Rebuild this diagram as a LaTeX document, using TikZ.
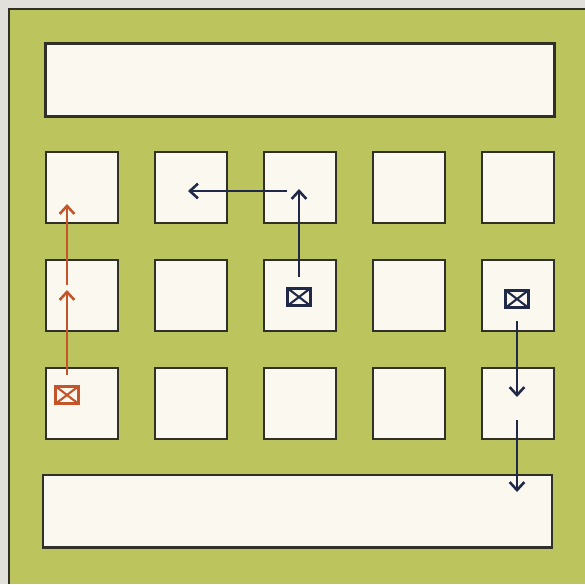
\documentclass[tikz,border=0pt]{standalone}
\usetikzlibrary{
  arrows.meta,
  positioning
}
\definecolor{papercolor}{RGB}{226, 224, 218}
\definecolor{panelcolor}{RGB}{188, 196, 94}
\definecolor{keycolor}{RGB}{251, 248, 240}
\definecolor{edgecolor}{RGB}{48, 48, 40}
\definecolor{redpath}{RGB}{196, 84, 42}
\definecolor{bluepath}{RGB}{32, 42, 72}
\tikzset{
keyblock/.style={
  draw=edgecolor,
  line width=2pt,
  fill=keycolor,
  inner sep=0pt,
  minimum width=21.6mm,
  minimum height=21.4mm
},
barblock/.style={
  keyblock,
  minimum width=152.7mm,
  minimum height=21.8mm
},
marker/.style={
  draw=#1,
  line width=2.8pt,
  fill=keycolor,
  inner sep=0pt,
  minimum width=6.8mm,
  minimum height=5.2mm,
  path picture={
    \draw[#1, line width=1.8pt]
      (path picture bounding box.north west) -- (path picture bounding box.south east)
      (path picture bounding box.south west) -- (path picture bounding box.north east);
  }
},
arrow/.style={
  -{Straight Barb[length=2.4mm,width=4.4mm,line width=2.2pt]},
  line width=2.4pt,
  draw=#1
}
}
\begin{document}
\begin{tikzpicture}[x=0.3mm, y=-0.3mm]
  \useasboundingbox (0,0) rectangle (585,584);
  % panel
  \fill[papercolor] (0,0) rectangle (585,584);
  \fill[panelcolor] (9,9) rectangle (585,584);
  \draw[edgecolor, line width=1.6pt] (9,584) -- (9,9) -- (585,9);
  % display bars
  \node[barblock] (display) at (300,80) {};
  \node[barblock] (output) at (297.5,511) {};
  % key grid
  \foreach \r in {1,2,3} {
    \foreach \c in {1,...,5} {
      \node[keyblock] (key-\r-\c) at ({82+109*(\c-1)},{187.5+108*(\r-1)}) {};
    }
  }
  % markers
  \node[marker=redpath] (mark-a) at (67,395) {};
  \node[marker=bluepath] (mark-b) at (299,297) {};
  \node[marker=bluepath] (mark-c) at (517,299) {};
  % free ends
  \coordinate (a1) at (67,290);
  \coordinate (a2) at (67,285);
  \coordinate (a3) at (67,204);
  \coordinate (b1) at (299,189);
  \coordinate (b2) at (287,191);
  \coordinate (b3) at (188,191);
  \coordinate (c1) at (517,397);
  \coordinate (c2) at (517,420);
  \coordinate (c3) at (517,492);
  % paths
  \draw[arrow=redpath, shorten <=3mm] (mark-a.north) -- (a1);
  \draw[arrow=redpath] (a2) -- (a3);
  \draw[arrow=bluepath, shorten <=3mm] (mark-b.north) -- (b1);
  \draw[arrow=bluepath] (b2) -- (b3);
  \draw[arrow=bluepath, shorten <=3.6mm] (mark-c.south) -- (c1);
  \draw[arrow=bluepath] (c2) -- (c3);
\end{tikzpicture}
\end{document}
